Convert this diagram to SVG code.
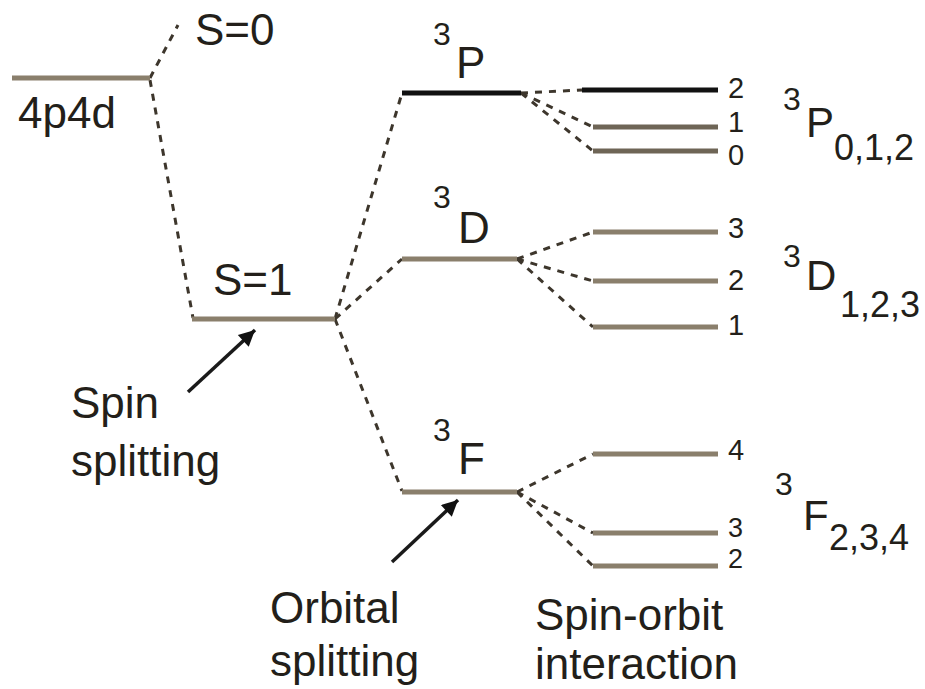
<svg xmlns="http://www.w3.org/2000/svg" width="925" height="689" viewBox="0 0 925 689">
<defs>
<style>
text{font-family:"Liberation Sans",Arial,sans-serif;fill:#231f1a}
.lbl{font-size:44px}
.sup{font-size:32px}
.big{font-size:42px}
.sub{font-size:36px}
.num{font-size:29px}
.num2{font-size:27px}
.lv{stroke:#8a7f6c;stroke-width:5;fill:none}
.lvd{stroke:#6e6556;stroke-width:5;fill:none}
.lvk{stroke:#111;stroke-width:5;fill:none}
.dash{stroke:#3d362c;stroke-width:3;stroke-dasharray:7 7;fill:none}
.arr{stroke:#1a1a1a;stroke-width:3.5;fill:none}
</style>
<marker id="ah" viewBox="0 0 10 10" refX="10" refY="5" markerWidth="24" markerHeight="16" markerUnits="userSpaceOnUse" orient="auto">
<path d="M0,0 L10,5 L0,10 z" fill="#111"/>
</marker>
</defs>
<rect width="925" height="689" fill="#fff"/>

<g id="connectors">
<line class="dash" x1="150" y1="78" x2="178" y2="25"/>
<line class="dash" x1="150" y1="80" x2="193" y2="318"/>
<line class="dash" x1="335" y1="319" x2="402" y2="93"/>
<line class="dash" x1="335" y1="319" x2="402" y2="259"/>
<line class="dash" x1="335" y1="319" x2="402" y2="491"/>
<line class="dash" x1="521" y1="93" x2="582" y2="90"/>
<line class="dash" x1="521" y1="93" x2="593" y2="127"/>
<line class="dash" x1="521" y1="93" x2="593" y2="151"/>
<line class="dash" x1="517" y1="259" x2="593" y2="232"/>
<line class="dash" x1="517" y1="259" x2="593" y2="281"/>
<line class="dash" x1="517" y1="259" x2="593" y2="327"/>
<line class="dash" x1="517" y1="492" x2="593" y2="454"/>
<line class="dash" x1="517" y1="492" x2="593" y2="533"/>
<line class="dash" x1="517" y1="492" x2="593" y2="566"/>
<line class="arr" x1="188" y1="392" x2="255" y2="330" marker-end="url(#ah)"/>
<line class="arr" x1="392" y1="562" x2="458" y2="500" marker-end="url(#ah)"/>
</g>

<g id="config-4p4d">
<line class="lv" x1="12" y1="78" x2="150" y2="78"/>
<text class="lbl" x="18" y="128">4p4d</text>
</g>

<g id="S0">
<text class="lbl" x="195" y="45">S=0</text>
</g>

<g id="S1">
<line class="lv" x1="192" y1="319" x2="335" y2="319"/>
<text class="lbl" x="213" y="295">S=1</text>
</g>

<g id="term-3P">
<line class="lvk" x1="402" y1="93" x2="521" y2="93"/>
<text x="433" y="45" class="sup">3</text>
<text x="456" y="78" class="lbl">P</text>
</g>

<g id="term-3D">
<line class="lv" x1="402" y1="259" x2="517" y2="259"/>
<text x="433" y="208" class="sup">3</text>
<text x="458" y="243" class="lbl">D</text>
</g>

<g id="term-3F">
<line class="lv" x1="402" y1="492" x2="517" y2="492"/>
<text x="433" y="441" class="sup">3</text>
<text x="458" y="474" class="lbl">F</text>
</g>

<g id="level-3P2">
<line class="lvk" x1="582" y1="90" x2="718" y2="90"/>
<text class="num" x="728" y="98">2</text>
</g>
<g id="level-3P1">
<line class="lvd" x1="593" y1="127" x2="718" y2="127"/>
<text class="num" x="728" y="132">1</text>
</g>
<g id="level-3P0">
<line class="lvd" x1="593" y1="151" x2="718" y2="151"/>
<text class="num" x="728" y="165">0</text>
</g>

<g id="level-3D3">
<line class="lv" x1="593" y1="232" x2="718" y2="232"/>
<text class="num" x="728" y="238">3</text>
</g>
<g id="level-3D2">
<line class="lv" x1="593" y1="281" x2="718" y2="281"/>
<text class="num" x="728" y="290">2</text>
</g>
<g id="level-3D1">
<line class="lv" x1="593" y1="327" x2="718" y2="327"/>
<text class="num" x="728" y="335">1</text>
</g>

<g id="level-3F4">
<line class="lv" x1="593" y1="454" x2="718" y2="454"/>
<text class="num" x="728" y="460">4</text>
</g>
<g id="level-3F3">
<line class="lv" x1="593" y1="533" x2="718" y2="533"/>
<text class="num2" x="728" y="537">3</text>
</g>
<g id="level-3F2">
<line class="lv" x1="593" y1="566" x2="718" y2="566"/>
<text class="num2" x="728" y="568">2</text>
</g>

<g id="label-3P012">
<text x="783" y="110" class="sup">3</text>
<text x="806" y="137" class="big">P</text>
<text x="834" y="160" class="sub">0,1,2</text>
</g>
<g id="label-3D123">
<text x="783" y="267" class="sup">3</text>
<text x="806" y="290" class="big">D</text>
<text x="840" y="317" class="sub">1,2,3</text>
</g>
<g id="label-3F234">
<text x="775" y="495" class="sup">3</text>
<text x="803" y="530" class="big">F</text>
<text x="829" y="550" class="sub">2,3,4</text>
</g>

<g id="label-spin-splitting">
<text class="lbl" x="71" y="418">Spin</text>
<text class="lbl" x="71" y="476">splitting</text>
</g>
<g id="label-orbital-splitting">
<text class="lbl" x="270" y="623">Orbital</text>
<text class="lbl" x="270" y="676">splitting</text>
</g>
<g id="label-spin-orbit">
<text class="lbl" x="535" y="630">Spin-orbit</text>
<text class="lbl" x="535" y="679">interaction</text>
</g>
</svg>
